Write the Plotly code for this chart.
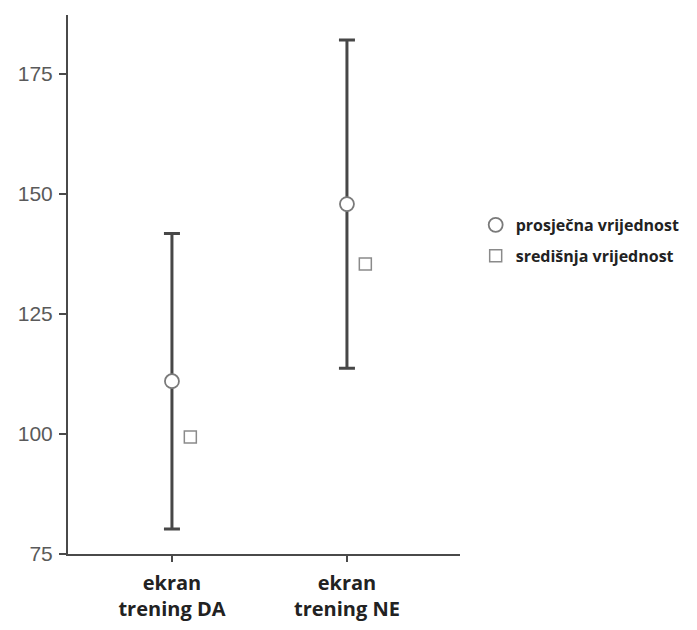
import plotly.graph_objects as go

categories = ["ekran<br>trening DA", "ekran<br>trening NE"]
mean_vals = [111.0, 147.9]
err_vals = [30.8, 34.2]
median_vals = [99.4, 135.4]
y_ticks = [75, 100, 125, 150, 175]

x_pos = list(range(len(categories)))
offset = 0.105

fig = go.Figure()
fig.add_trace(go.Scatter(
    x=x_pos, y=mean_vals, mode="markers", name="prosječna vrijednost",
    legendgroup="a",
    error_y=dict(type="data", array=err_vals, visible=True, color="#474747",
                 thickness=3, width=8),
    marker=dict(symbol="circle", size=14, color="white",
                line=dict(color="#7a7a7a", width=1.8)),
))
fig.add_trace(go.Scatter(
    x=[x + offset for x in x_pos], y=median_vals, mode="markers",
    name="središnja vrijednost", legendgroup="b",
    marker=dict(symbol="square", size=12, color="white",
                line=dict(color="#8a8a8a", width=1.5)),
))

fig.update_layout(
    width=697, height=630,
    margin=dict(l=60, r=245, t=7, b=84),
    plot_bgcolor="white", paper_bgcolor="white",
    showlegend=True,
    legend=dict(x=1.04, y=0.642, xanchor="left", yanchor="top",
                font=dict(family="Open Sans", size=16, color="#222222",
                          weight="bold"),
                tracegroupgap=7, traceorder="grouped"),
    xaxis=dict(range=[-0.594, 1.646], tickmode="array", tickvals=x_pos,
               ticktext=categories, showgrid=False, zeroline=False,
               showline=True, linecolor="#4a4a4a", linewidth=2,
               ticks="outside", ticklen=6, tickwidth=2, tickcolor="#4a4a4a",
               automargin=False, ticklabelstandoff=4,
               tickfont=dict(family="Open Sans", size=20, color="#222222",
                             weight="bold")),
    yaxis=dict(range=[75, 187.3], tickmode="array", tickvals=y_ticks,
               showgrid=False, zeroline=False, showline=True,
               linecolor="#4a4a4a", linewidth=2, ticks="outside",
               ticklen=7, tickwidth=2, tickcolor="#4a4a4a",
               automargin=False, ticklabelstandoff=2,
               tickfont=dict(family="Liberation Sans", size=21,
                             color="#5a5a5a")),
)

fig.write_html("out.html")
